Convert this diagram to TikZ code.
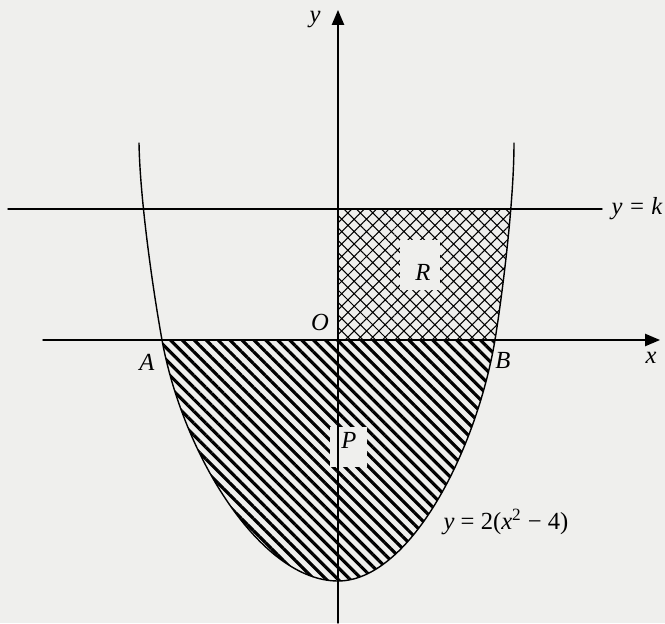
\documentclass[tikz,border=0pt]{standalone}
\usepackage{fontspec}
\setmainfont{Liberation Serif}
\usepackage{xcolor}
\usetikzlibrary{arrows.meta,patterns.meta}
\definecolor{paper}{RGB}{239,239,237}
\tikzset{
  axis/.style={line width=0.8pt, -{Triangle[length=8.5pt,width=7pt]}},
  thinline/.style={line width=0.8pt},
  lbl/.style={font=\fontsize{14}{16}\selectfont\itshape, inner sep=1pt},
  eqn/.style={font=\fontsize{14}{16}\selectfont, inner sep=1pt},
  patch/.style={fill=paper, inner sep=0pt},
  striped/.style={pattern={Lines[angle=-45,distance=4.8pt,line width=1.8pt]}},
  crossed/.style={pattern={Hatch[angle=45,distance=5pt,line width=0.6pt]}},
  every picture/.style={line cap=round, line join=round}
}

\begin{document}
\begin{tikzpicture}
    \fill[paper] (-6.76,-5.66) rectangle (6.54,6.8);
    \useasboundingbox (-6.76,-5.66) rectangle (6.54,6.8);

    \coordinate (xl) at (-5.9,0);
    \coordinate (xr) at (6.44,0);
    \coordinate (yb) at (0,-5.66);
    \coordinate (yt) at (0,6.6);
    \coordinate (kl) at (-6.6,2.62);
    \coordinate (kr) at (5.28,2.62);
    \coordinate (ltop) at (-3.98,3.94);
    \coordinate (rtop) at (3.52,3.94);
    \coordinate (ca) at (-3.52,0);
    \coordinate (cb) at (3.14,0);
    \coordinate (cv) at (0,-4.82);

    \path[save path=\parab] (ltop) .. controls (-3.96,2.8) and (-3.7,1.0) .. (ca)
      .. controls (-3.1,-2.3) and (-1.55,-4.82) .. (cv)
      .. controls (1.4,-4.82) and (2.75,-2.3) .. (cb)
      .. controls (3.3,1.0) and (3.52,2.8) .. (rtop);

    \begin{scope}
      \clip[use path=\parab];
      \fill[striped] (-4.5,-5.2) rectangle (4.5,0);
      \fill[crossed] (0,0) rectangle (4.5,2.62);
    \end{scope}

    \node[patch, minimum width=0.74cm, minimum height=0.8cm] (Pbox) at (0.21,-2.14) {};
    \node[patch, minimum width=0.8cm, minimum height=1cm] (Rbox) at (1.64,1.5) {};

    \draw[axis] (xl) -- (xr);
    \draw[axis] (yb) -- (yt);
    \draw[thinline] (kl) -- (kr);
    \draw[thinline, use path=\parab];

    \node[lbl] (P) at (0.22,-2.0) {P};
    \node[lbl] (R) at (1.7,1.36) {R};
    \node[lbl] (A) at (-3.82,-0.44) {A};
    \node[lbl] (B) at (3.3,-0.4) {B};
    \node[lbl] (O) at (-0.36,0.36) {O};
    \node[lbl] (x) at (6.26,-0.36) {x};
    \node[lbl] (y) at (-0.46,6.4) {y};
    \node[lbl, anchor=west] (k) at ([xshift=0.15cm]kr) {y = k};
    \node[eqn] (curve) at (3.36,-3.64) {\textit{y} = 2(\textit{x}\textsuperscript{2} − 4)};
\end{tikzpicture}
\end{document}
